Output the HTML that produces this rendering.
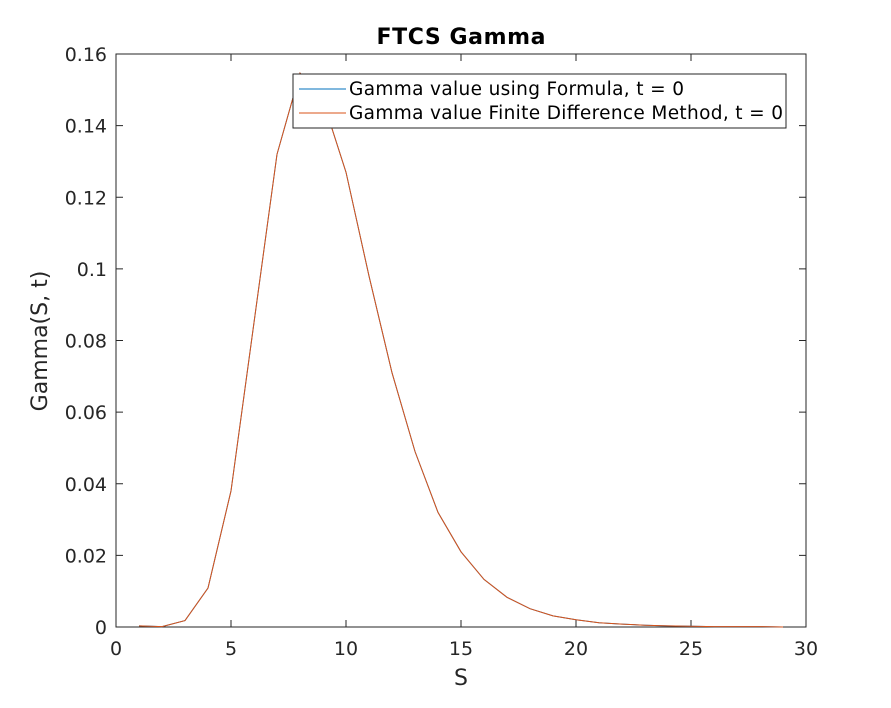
<!DOCTYPE html>
<html><head><meta charset="utf-8"><style>
body{margin:0;background:#fff;}
svg text{font-family:"DejaVu Sans","Liberation Sans",sans-serif;fill:#262626;}
</style></head><body>
<svg id="chart" width="891" height="703">
<rect x="0" y="0" width="891" height="703" fill="#fff"/>
<g id="grid"></g>
<g id="series"></g>
<text x="461" y="44" text-anchor="middle" font-size="22" font-weight="bold" textLength="169" style="fill:#000">FTCS Gamma</text>
<text x="461" y="685" text-anchor="middle" font-size="22">S</text>
<text transform="translate(47,341) rotate(-90)" text-anchor="middle" font-size="22">Gamma(S, t)</text>
<g>
<rect x="293" y="74" width="493" height="54" fill="#fff" stroke="#262626" stroke-width="1"/>
<line x1="299" y1="89" x2="346" y2="89" stroke="#0072BD"/>
<text x="349" y="95" font-size="18.5" textLength="335" style="fill:#000">Gamma value using Formula, t = 0</text>
<line x1="299" y1="113" x2="346" y2="113" stroke="#D95319"/>
<text x="349" y="119" font-size="18.5" textLength="434" style="fill:#000">Gamma value Finite Difference Method, t = 0</text>
</g>
</svg>
<script>
const sVals=[1,2,3,4,5,6,7,8,9,10,11,12,13,14,15,16,17,18,19,20,21,22,23,24,25,26,27,28,29];
const gammaFormula=[0.0003,0.0001,0.0018,0.0109,0.038,0.085,0.132,0.1547,0.147,0.127,0.098,0.071,0.049,0.032,0.021,0.0133,0.0083,0.0051,0.0031,0.002,0.0012,0.0008,0.0005,0.0003,0.0002,0.0001,0.0001,0.0001,0.0];
const gammaFDM=[0.0003,0.0001,0.0018,0.0109,0.038,0.085,0.132,0.1547,0.147,0.127,0.098,0.071,0.049,0.032,0.021,0.0133,0.0083,0.0051,0.0031,0.002,0.0012,0.0008,0.0005,0.0003,0.0002,0.0001,0.0001,0.0001,0.0];
const xTicks=[0,5,10,15,20,25,30];
const yTicks=[0,0.02,0.04,0.06,0.08,0.1,0.12,0.14,0.16];
const yTickLabels=["0","0.02","0.04","0.06","0.08","0.1","0.12","0.14","0.16"];
const NS="http://www.w3.org/2000/svg";
const L=116,R=806,T=54,B=627;
const xs=v=>L+(v-0)/30*(R-L);
const ys=v=>B-(v-0)/0.16*(B-T);
const g=document.getElementById('grid'),sg=document.getElementById('series');
function mk(tag,attrs,parent){const e=document.createElementNS(NS,tag);for(const k in attrs)e.setAttribute(k,attrs[k]);parent.appendChild(e);return e;}
const box=mk('rect',{x:L,y:T,width:R-L,height:B-T,fill:'none',stroke:'#262626','stroke-width':1},g);


xTicks.forEach(v=>{
 const x=xs(v);
 const t1=mk('line',{x1:x,y1:B,x2:x,y2:B-7,stroke:'#262626'},g);
 
 
 const t2=mk('line',{x1:x,y1:T,x2:x,y2:T+7,stroke:'#262626'},g);
 
 
 const tx=mk('text',{x:x,y:B+28,'text-anchor':'middle','font-size':19},g);
 tx.textContent=String(v);
 
 
});
yTicks.forEach((v,i)=>{
 const y=ys(v);
 const t1=mk('line',{x1:L,y1:y,x2:L+7,y2:y,stroke:'#262626'},g);
 
 
 const t2=mk('line',{x1:R,y1:y,x2:R-7,y2:y,stroke:'#262626'},g);
 
 
 const tx=mk('text',{x:L-9,y:y+7,'text-anchor':'end','font-size':19},g);
 tx.textContent=yTickLabels[i];
 
 
});
function pts(arr){return sVals.map((s,i)=>xs(s).toFixed(1)+','+ys(arr[i]).toFixed(1)).join(' ');}
const p1=mk('polyline',{points:pts(gammaFormula),fill:'none',stroke:'#0072BD','stroke-width':1},sg);


const p2=mk('polyline',{points:pts(gammaFDM),fill:'none',stroke:'#D95319','stroke-width':1},sg);


</script>
</body></html>
